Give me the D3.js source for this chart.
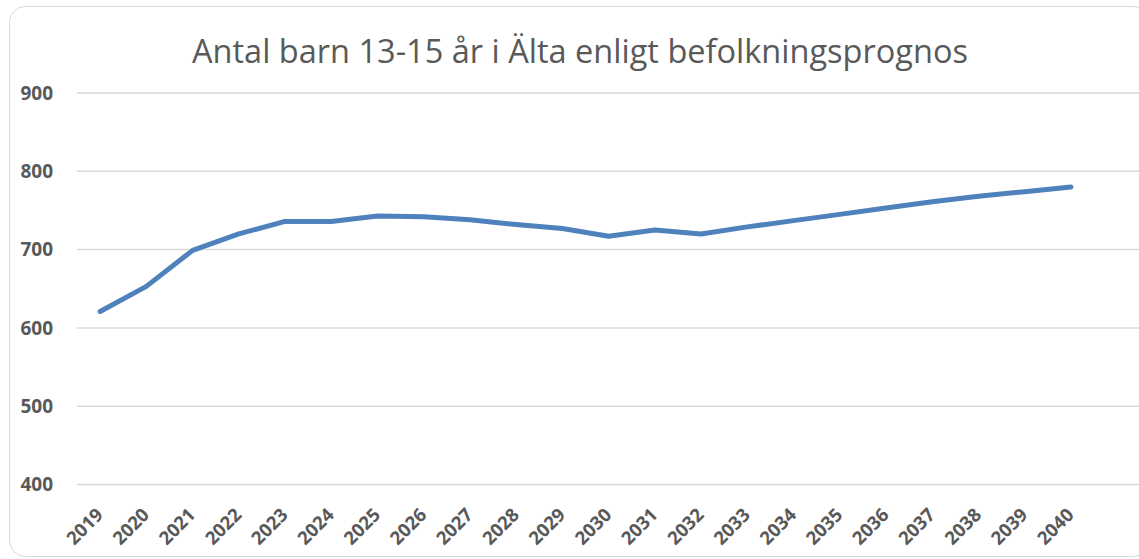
<!DOCTYPE html>
<html>
<head>
<meta charset="utf-8">
<script src="https://cdn.jsdelivr.net/npm/d3@7"></script>
<style>
    body { margin: 0; background: #fff; }
    .tick-label { font-family: "Open Sans", sans-serif; font-weight: bold; fill: #595959; }
    .chart-title { font-family: "Open Sans", sans-serif; font-weight: 400; font-size: 33px; fill: #595959; }
</style>
</head>
<body>
<div id="chart"></div>
<script>
// Data
const years = ["2019", "2020", "2021", "2022", "2023", "2024", "2025", "2026", "2027", "2028", "2029",
    "2030", "2031", "2032", "2033", "2034", "2035", "2036", "2037", "2038", "2039", "2040"];
const children = [621, 653, 699, 720, 736, 736, 743, 742, 738, 732, 727,
    717, 725, 720, 729, 737, 745, 753, 761, 768, 774, 780];
const yTicks = [400, 500, 600, 700, 800, 900];

const width = 1139;
const height = 559;
const margin = { top: 93, right: 45, bottom: 75, left: 77 };

const svg = d3.select("#chart")
    .append("svg")
    .attr("width", width)
    .attr("height", height);

// Chart area border
svg.append("rect")
    .attr("x", 9.5)
    .attr("y", 6.5)
    .attr("width", 1140)
    .attr("height", 550)
    .attr("rx", 16)
    .attr("fill", "#fff")
    .attr("stroke", "#d9d9d9");

const xScale = d3.scaleBand()
    .domain(years)
    .range([margin.left, width - margin.right]);

const yScale = d3.scaleLinear()
    .domain([400, 900])
    .range([484.5, 93]);

// Horizontal gridlines
svg.append("g")
    .selectAll("line")
    .data(yTicks)
    .join("line")
    .attr("x1", margin.left)
    .attr("x2", width)
    .attr("y1", d => yScale(d))
    .attr("y2", d => yScale(d))
    .attr("stroke", "#d9d9d9")
    .attr("stroke-width", 1.5);

// Y axis labels
svg.append("g")
    .selectAll("text")
    .data(yTicks)
    .join("text")
    .attr("class", "tick-label")
    .style("font-size", "19px")
    .attr("x", 53)
    .attr("y", d => yScale(d))
    .attr("dy", "0.36em")
    .attr("text-anchor", "end")
    .text(d => d);

// X axis labels, rotated
svg.append("g")
    .selectAll("text")
    .data(years)
    .join("text")
    .attr("class", "tick-label")
    .style("font-size", "18.5px")
    .attr("transform", d => `translate(${xScale(d) + xScale.bandwidth() / 2 + 4}, 516) rotate(-45)`)
    .attr("text-anchor", "end")
    .text(d => d);

// The line
const line = d3.line()
    .x((d, i) => xScale(years[i]) + xScale.bandwidth() / 2)
    .y(d => yScale(d));

svg.append("path")
    .datum(children)
    .attr("d", line)
    .attr("fill", "none")
    .attr("stroke", "#4f81bd")
    .attr("stroke-width", 5)
    .attr("stroke-linejoin", "round")
    .attr("stroke-linecap", "round");

// Title
svg.append("text")
    .attr("class", "chart-title")
    .attr("x", 580)
    .attr("y", 63)
    .attr("text-anchor", "middle")
    .attr("textLength", 776)
    .attr("lengthAdjust", "spacingAndGlyphs")
    .text("Antal barn 13-15 år i Älta enligt befolkningsprognos");
</script>
</body>
</html>
